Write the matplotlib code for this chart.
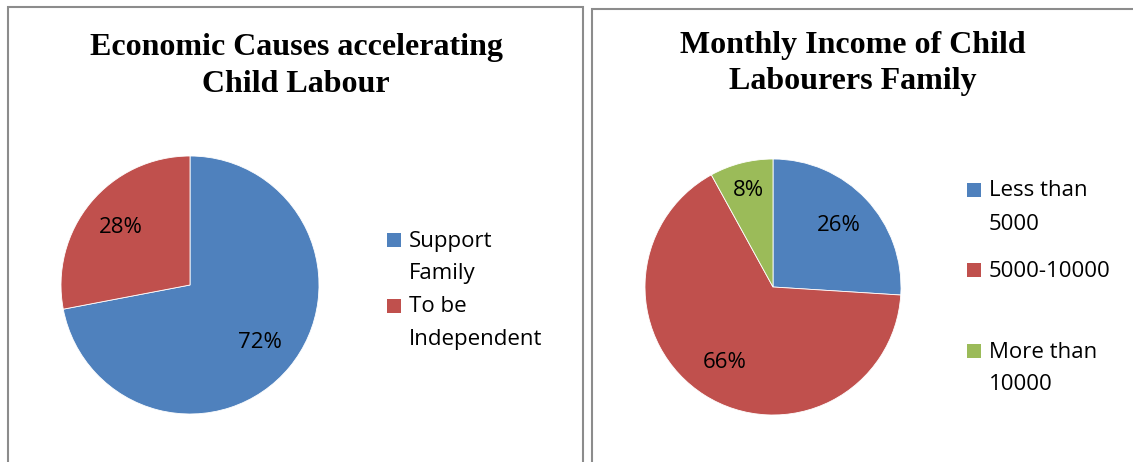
import matplotlib
matplotlib.use("Agg")
import matplotlib.pyplot as plt
from matplotlib.patches import Rectangle
import numpy as np

# ---- data -------------------------------------------------------------
causes_labels = ["Support\nFamily", "To be\nIndependent"]
causes_values = [72, 28]

income_labels = ["Less than\n5000", "5000-10000", "More than\n10000"]
income_values = [26, 66, 8]

colors = ["#4F81BD", "#C0504D", "#9BBB59"]

W, H = 1133, 462
fig = plt.figure(figsize=(W / 100, H / 100), dpi=100)
fig.patch.set_facecolor("white")


def fx(x):
    return x / W


def fy(y):
    return 1 - y / H


TITLE_FONT = dict(family="Liberation Serif", weight="bold", size=23)
BODY_FONT = dict(family="Open Sans", size=16)


def panel_border(x0, y0, x1, y1):
    fig.patches.append(Rectangle((fx(x0), fy(y1)), fx(x1) - fx(x0), fy(y0) - fy(y1),
                                 transform=fig.transFigure, fill=False,
                                 edgecolor="#8c8c8c", linewidth=1.5, zorder=0))


def pie_panel(cx, cy, r, values, cols):
    ax = fig.add_axes([fx(cx - r), fy(cy + r), 2 * r / W, 2 * r / H])
    wedges, _, autotexts = ax.pie(values, colors=cols, startangle=90, counterclock=False,
                                  autopct="%d%%", pctdistance=0.70,
                                  wedgeprops=dict(edgecolor="white", linewidth=0.6),
                                  textprops=dict(color="black", **BODY_FONT))
    ax.set_xlim(-1, 1)
    ax.set_ylim(-1, 1)
    ax.set_aspect("equal")
    return ax, wedges, autotexts


def legend_panel(x_marker, baselines, labels, cols, line_h):
    # square key sits on the baseline of the first line of each entry
    for (label, col, base) in zip(labels, cols, baselines):
        lines = label.split("\n")
        fig.patches.append(Rectangle((fx(x_marker), fy(base)), 14 / W, 14 / H,
                                     transform=fig.transFigure, facecolor=col,
                                     edgecolor="none"))
        for k, line in enumerate(lines):
            fig.text(fx(x_marker + 22), fy(base + k * line_h), line,
                     ha="left", va="baseline", **BODY_FONT)


# ---- left panel: economic causes --------------------------------------
panel_border(8, 7, 583, 470)
fig.text(fx(296), fy(55), "Economic Causes accelerating", ha="center", va="baseline", **TITLE_FONT)
fig.text(fx(296), fy(92.5), "Child Labour", ha="center", va="baseline", **TITLE_FONT)
pie_panel(190, 285, 129, causes_values, colors[:2])
legend_panel(387, [246.5, 312.5], causes_labels, colors[:2], 32.5)

# ---- right panel: monthly income --------------------------------------
panel_border(592, 9, 1145, 470)
fig.text(fx(853), fy(53.5), "Monthly Income of Child", ha="center", va="baseline", **TITLE_FONT)
fig.text(fx(853), fy(89.5), "Labourers Family", ha="center", va="baseline", **TITLE_FONT)
ax2, wedges2, autotexts2 = pie_panel(773, 287, 128, income_values, colors)
# small slice label sits a little further out
w = wedges2[2]
mid = np.deg2rad((w.theta1 + w.theta2) / 2)
autotexts2[2].set_position((0.78 * np.cos(mid), 0.78 * np.sin(mid)))
legend_panel(967, [196.5, 277, 357.5], income_labels, colors, 33)

fig.savefig("out.png", dpi=100, facecolor="white")
